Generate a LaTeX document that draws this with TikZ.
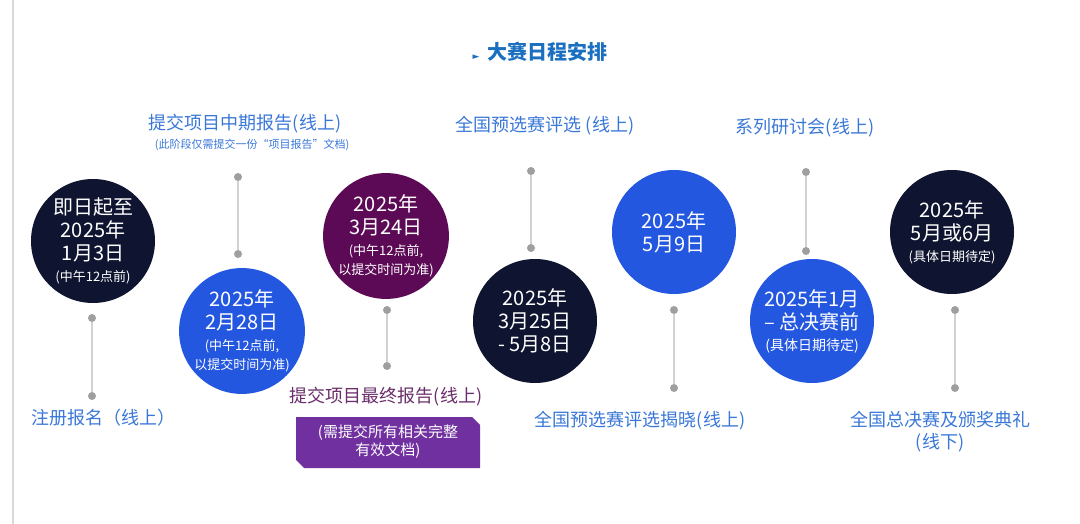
\documentclass[tikz,border=0pt]{standalone}
\usepackage{fontspec}
\setmainfont{Noto Sans CJK SC}
\newfontfamily\symfont{DejaVu Sans}
\newcommand\smtxt{\fontsize{13}{14}\selectfont}
\begin{document}
\begin{tikzpicture}[x=1pt,y=-1pt,
  circ/.style={circle,minimum size=124pt,inner sep=0pt,text=white,align=center,font=\fontsize{20}{23}\selectfont},
  dot/.style={circle,fill=gray!75,minimum size=8pt,inner sep=0pt},
  conn/.style={draw=gray!35,line width=2pt},
  lab/.style={text=labblue,font=\fontsize{18}{22}\selectfont,align=center}]
\definecolor{navy}{HTML}{0F1530}
\definecolor{cblue}{HTML}{2457E0}
\definecolor{cpurp}{HTML}{5C0A55}
\definecolor{labblue}{HTML}{3A78D8}
\definecolor{ttl}{HTML}{1A6FC0}
\definecolor{boxp}{HTML}{7030A0}
\definecolor{labp}{HTML}{6B2D6B}
\useasboundingbox (0,0) rectangle (1080,524);
\fill[white] (0,0) rectangle (1080,524);
\draw[gray!30,line width=2pt] (13,0) -- (13,524);
\node[text=ttl,font=\fontsize{20}{24}\selectfont\bfseries] (title) at (540,52) {{\symfont\fontsize{9}{9}\selectfont ►}\, 大赛日程安排};

\node[circ,fill=navy] (c1) at (93,241) {即日起至\\2025年\\1月3日\\[-2pt]{\smtxt (中午12点前)}};
\node[circ,fill=cblue] (c2) at (242,331) {2025年\\2月28日\\[-2pt]{\smtxt (中午12点前,}\\[-4pt]{\smtxt 以提交时间为准)}};
\node[circ,fill=cpurp] (c3) at (386,236) {2025年\\3月24日\\[-2pt]{\smtxt (中午12点前,}\\[-4pt]{\smtxt 以提交时间为准)}};
\node[circ,fill=navy] (c4) at (535,321) {2025年\\3月25日\\- 5月8日};
\node[circ,fill=cblue] (c5) at (674,232) {2025年\\5月9日};
\node[circ,fill=cblue] (c6) at (812,321) {2025年1月\\– 总决赛前\\[-2pt]{\fontsize{14}{15}\selectfont (具体日期待定)}};
\node[circ,fill=navy] (c7) at (952,232) {2025年\\5月或6月\\[-2pt]{\smtxt (具体日期待定)}};

\foreach \n/\x/\ya/\yb in {1/92/318/396,2/238/177/254,3/387/310/366,4/531/171/248,5/674/310/388,6/806/172/251,7/955/310/388}{
  \node[dot] (a\n) at (\x,\ya) {};
  \node[dot] (b\n) at (\x,\yb) {};
  \draw[conn] (a\n) -- (b\n);
}

\node[lab] (l1) at (103,418) {注册报名（线上）};
\node[lab] (l2) at (245,124) {提交项目中期报告(线上)};
\node[text=labblue,font=\fontsize{11}{12}\selectfont] (l2s) at (252,145) {(此阶段仅需提交一份“项目报告”文档)};
\node[lab] (l3) at (545,126) {全国预选赛评选 (线上)};
\node[lab,text=labp] (l4) at (386,397) {提交项目最终报告(线上)};
\fill[boxp] (296,417) -- (472,417) -- (480,425) -- (480,468) -- (304,468) -- (296,460) -- cycle;
\node[text=white,font=\fontsize{15}{18}\selectfont,align=center] (l4s) at (388,442) {(需提交所有相关完整\\有效文档)};
\node[lab] (l5) at (640,421) {全国预选赛评选揭晓(线上)};
\node[lab] (l6) at (805,128) {系列研讨会(线上)};
\node[lab] (l7) at (940,432) {全国总决赛及颁奖典礼\\(线下)};
\end{tikzpicture}
\end{document}
